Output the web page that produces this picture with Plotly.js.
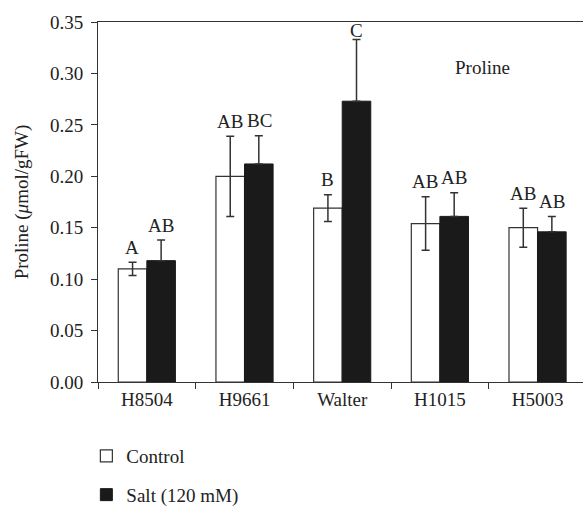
<!DOCTYPE html>
<html>
<head>
<meta charset="utf-8">
<script src="https://cdn.plot.ly/plotly-3.0.1.min.js"></script>
<style>html,body{margin:0;padding:0;background:#fff;}#chart{width:583px;height:508px;}</style>
</head>
<body>
<div id="chart"></div>
<script>
var categories = ['H8504', 'H9661', 'Walter', 'H1015', 'H5003'];
var controlValues = [0.110, 0.200, 0.169, 0.154, 0.150];
var controlErrors = [0.0065, 0.039, 0.013, 0.026, 0.019];
var saltValues = [0.118, 0.212, 0.273, 0.161, 0.146];
var saltErrors = [0.020, 0.0275, 0.060, 0.023, 0.015];
var controlLetters = ['A', 'AB', 'B', 'AB', 'AB'];
var saltLetters = ['AB', 'BC', 'C', 'AB', 'AB'];
var yTickValues = [0, 0.05, 0.10, 0.15, 0.20, 0.25, 0.30, 0.35];

var FONT = 'Liberation Serif, Times New Roman, serif';
var FS = 19;
var AX = '#333333';

var traces = [
  {
    type: 'bar', name: 'Control', x: categories, y: controlValues,
    marker: {color: '#ffffff', line: {color: AX, width: 1.2}},
    error_y: {type: 'data', array: controlErrors, visible: true, color: AX, thickness: 1.5, width: 4},
    legendgroup: 'c'
  },
  {
    type: 'bar', name: 'Salt (120 mM)', x: categories, y: saltValues,
    marker: {color: '#1a1a1a', line: {color: '#1a1a1a', width: 1}},
    error_y: {type: 'data', symmetric: false, array: saltErrors, arrayminus: saltErrors.map(function(){return 0;}), visible: true, color: AX, thickness: 1.5, width: 4},
    legendgroup: 's'
  }
];

var annotations = [];
function addLetters(vals, errs, letters, shift) {
  for (var i = 0; i < categories.length; i++) {
    var top = vals[i] + errs[i];
    annotations.push({
      x: categories[i], y: top, xref: 'x', yref: 'y',
      text: letters[i], showarrow: false,
      xshift: shift, yshift: top > 0.32 ? 9 : 15, yanchor: 'middle',
      font: {family: FONT, size: FS, color: '#222'}
    });
  }
}
addLetters(controlValues, controlErrors, controlLetters, -14.5);
addLetters(saltValues, saltErrors, saltLetters, 14.5);
annotations.push({
  x: 0.854, y: 0.908, xref: 'paper', yref: 'paper', text: 'Proline',
  showarrow: false, font: {family: FONT, size: FS, color: '#222'}
});

var layout = {
  width: 583, height: 508,
  margin: {l: 98, r: 0, t: 22, b: 126, autoexpand: false},
  paper_bgcolor: '#fff', plot_bgcolor: '#fff',
  font: {family: FONT, size: FS, color: '#222'},
  barmode: 'group', bargap: 0.415, bargroupgap: 0,
  showlegend: true,
  legend: {x: -0.024, xanchor: 'left', y: -0.153, yanchor: 'top', tracegroupgap: 11,
           font: {family: FONT, size: FS, color: '#222'}, bgcolor: 'rgba(0,0,0,0)'},
  xaxis: {
    type: 'category', range: [-0.5, 4.465],
    showline: true, linecolor: AX, linewidth: 1, mirror: true,
    ticks: 'outside', tickson: 'boundaries', ticklen: 6, tickcolor: AX, tickwidth: 1,
    showgrid: false, zeroline: false,
    tickfont: {family: FONT, size: FS, color: '#222'}
  },
  yaxis: {
    range: [0, 0.35], tickvals: yTickValues, tickformat: '.2f',
    showline: true, linecolor: AX, linewidth: 1,
    ticks: 'outside', ticklen: 6, tickcolor: AX, tickwidth: 1, ticklabelstandoff: 4,
    showgrid: false, zeroline: false,
    tickfont: {family: FONT, size: FS, color: '#222'},
    title: {text: 'Proline (<i>μ</i>mol/gFW)', font: {family: FONT, size: FS, color: '#222'}, standoff: 16}
  },
  annotations: annotations
};

Plotly.newPlot('chart', traces, layout, {displayModeBar: false, staticPlot: true});
</script>
</body>
</html>
